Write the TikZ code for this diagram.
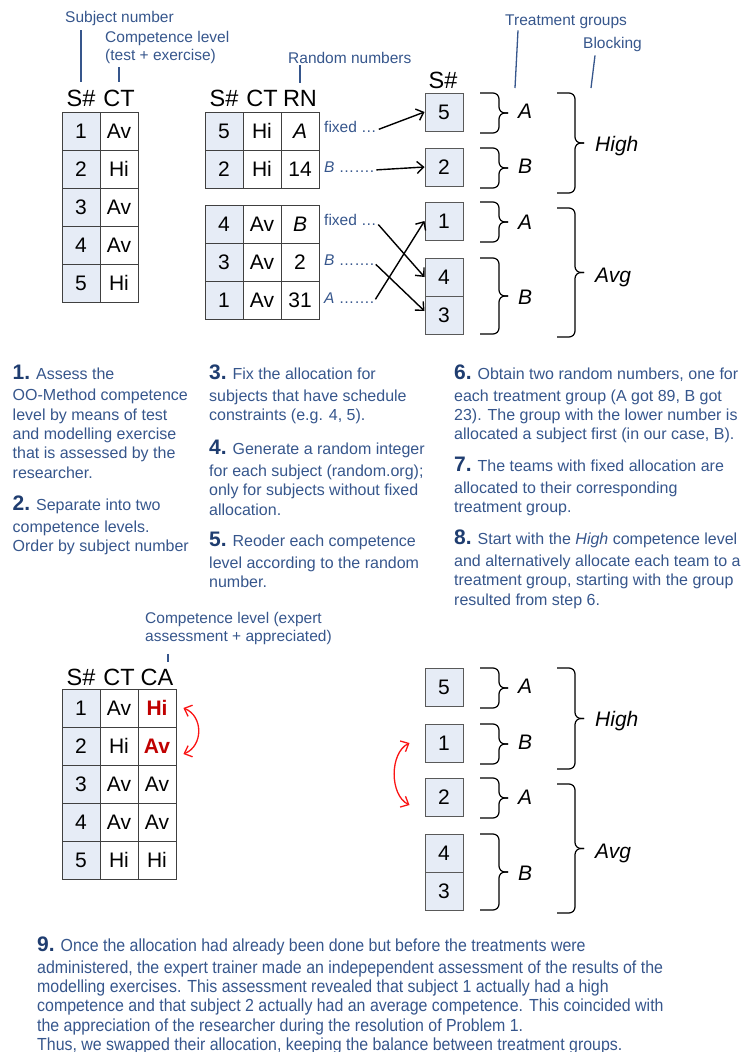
\documentclass[tikz,border=0pt]{standalone}
\usepackage{fontspec}
\setmainfont{Liberation Sans}
\newfontfamily\narrowfont[FakeStretch=0.91]{Liberation Sans}
\usetikzlibrary{arrows.meta}

\definecolor{lblblue}{RGB}{54,86,140}
\definecolor{numblue}{RGB}{31,61,112}
\definecolor{cellfill}{RGB}{230,236,246}
\definecolor{darkred}{RGB}{192,0,0}
\definecolor{swapred}{RGB}{250,20,20}

\newcommand\stepnum[1]{{\normalfont\color{numblue}\bfseries\fontsize{21}{21}\selectfont #1}}
\newcommand\grpbrace[4]{%
  \draw[brace line] (#1,#2) -| ({#1+#4-9},{(#2+#3)/2}) -- ({#1+#4},{(#2+#3)/2});
  \draw[brace line] (#1,#3) -| ({#1+#4-9},{(#2+#3)/2}) -- ({#1+#4},{(#2+#3)/2});}

\begin{document}
\begin{tikzpicture}[x=1pt,y=-1pt,>={Straight Barb[length=6.5pt,width=12pt]},
    cell/.style={draw=black!75,line width=0.8pt,minimum width=38pt,minimum height=38pt,inner sep=0pt,font=\fontsize{21}{25}\selectfont},
    idcell/.style={cell,fill=cellfill},
    redcell/.style={cell,text=darkred,font=\fontsize{21}{25}\selectfont\bfseries},
    subj/.style={draw=black!65,line width=1pt,fill=cellfill,minimum width=38pt,minimum height=38pt,inner sep=0pt,font=\fontsize{21}{25}\selectfont},
    hdr/.style={font=\fontsize{23.5}{26}\selectfont,inner sep=0pt},
    lbl/.style={lblblue,font=\fontsize{15.5}{18}\selectfont,inner sep=0pt,align=left},
    tick/.style={lblblue,line width=1.3pt},
    note/.style={lblblue,font=\fontsize{15.5}{18}\selectfont,inner sep=0pt,anchor=base west},
    steptxt/.style={lblblue,font=\fontsize{16}{19.3}\selectfont,inner sep=0pt,align=left,anchor=north west},
    grp/.style={font=\itshape\fontsize{21}{25}\selectfont,inner sep=0pt,anchor=west},
    brace line/.style={line width=1.2pt,rounded corners=6pt},
    alloc/.style={->,line width=1.4pt,shorten <=2pt},
    swap/.style={<->,swapred,line width=1.3pt}]
\useasboundingbox (0,0) rectangle (743,1052);

\node[lbl,anchor=base west] (lsubj) at (65,22) {Subject number};
\node[lbl,anchor=north west] (lct) at (105,31.5) {Competence level\\(test + exercise)};
\node[lbl,anchor=base west] (lrn) at (288,63) {Random numbers};
\node[lbl,anchor=base west] (ltg) at (505,25) {Treatment groups};
\node[lbl,anchor=base west] (lblk) at (583,48) {Blocking};

\node[hdr] (hS1) at (81,98) {S\#};
\node[hdr] (hCT1) at (119,98) {CT};
\node[hdr] (hS2) at (224,98) {S\#};
\node[hdr] (hCT2) at (262,98) {CT};
\node[hdr] (hRN) at (300,98) {RN};
\node[hdr] (hS3) at (443,80) {S\#};

\node[idcell] (s1) at (81,131) {1}; \node[cell] (ct1) at (119,131) {Av};
\node[idcell] (s2) at (81,169) {2}; \node[cell] (ct2) at (119,169) {Hi};
\node[idcell] (s3) at (81,207) {3}; \node[cell] (ct3) at (119,207) {Av};
\node[idcell] (s4) at (81,245) {4}; \node[cell] (ct4) at (119,245) {Av};
\node[idcell] (s5) at (81,283) {5}; \node[cell] (ct5) at (119,283) {Hi};

\node[idcell] (rs5) at (224,131) {5}; \node[cell] (rc5) at (262,131) {Hi}; \node[cell] (rn5) at (300,131) {\itshape A};
\node[idcell] (rs2) at (224,169) {2}; \node[cell] (rc2) at (262,169) {Hi}; \node[cell] (rn2) at (300,169) {14};
\node[idcell] (rs4) at (224,224) {4}; \node[cell] (rc4) at (262,224) {Av}; \node[cell] (rn4) at (300,224) {\itshape B};
\node[idcell] (rs3) at (224,262) {3}; \node[cell] (rc3) at (262,262) {Av}; \node[cell] (rn3) at (300,262) {2};
\node[idcell] (rs1) at (224,300) {1}; \node[cell] (rc1) at (262,300) {Av}; \node[cell] (rn1) at (300,300) {31};

\node[note] (fx5) at (324,132) {fixed …};
\node[note] (nt2) at (324,172) {\itshape B\upshape{} …….};
\node[note] (fx4) at (324,225) {fixed …};
\node[note] (nt3) at (324,265) {\itshape B\upshape{} …….};
\node[note] (nt1) at (324,303) {\itshape A\upshape{} …….};

\node[subj] (g5) at (444,112) {5};
\node[subj] (g2) at (444,167) {2};
\node[subj] (g1) at (444,221) {1};
\node[subj] (g4) at (444,277) {4};
\node[subj] (g3) at (444,315) {3};

\draw[alloc] ([yshift=2pt]fx5.base east) -- (g5.west);
\draw[alloc] ([yshift=2pt]nt2.base east) -- (g2.west);
\draw[alloc] ([yshift=2pt]fx4.base east) -- (g4.west);
\draw[alloc] ([yshift=2pt]nt3.base east) -- ([yshift=4pt]g3.west);
\draw[alloc] ([yshift=2pt]nt1.base east) -- (g1.west);

\grpbrace{480}{93}{133}{28}
\grpbrace{480}{148}{188}{28}
\grpbrace{480}{202}{242}{28}
\grpbrace{480}{258}{334}{28}
\grpbrace{557}{93}{193}{27}
\grpbrace{557}{208}{337}{27}
\node[grp] (gA1) at (518,111) {A};
\node[grp] (gB1) at (518,166) {B};
\node[grp] (gA2) at (518,222) {A};
\node[grp] (gB2) at (518,297) {B};
\node[grp] (gHi) at (595,146) {High};
\node[grp] (gAv) at (595,277) {Avg};

\draw[tick] ([yshift=-5pt]lsubj.south -| hS1.north) -- ([yshift=7pt]hS1.north);
\draw[tick] ([yshift=-3pt]lct.south -| hCT1.north) -- ([yshift=7pt]hCT1.north);
\draw[tick] ([yshift=-2pt]lrn.south -| hRN.north) -- ([yshift=7pt]hRN.north);
\draw[tick] ([yshift=-2pt]ltg.south -| gA1.west) -- ([yshift=23pt,xshift=-3pt]gA1.west);
\draw[tick] ([yshift=-4pt]lblk.south -| gHi.west) -- ([yshift=58pt,xshift=-4pt]gHi.west);

\node[steptxt] (st1) at (12.5,364.5) {\stepnum{1.} Assess the\\[2.5pt]
  OO-Method competence\\ level by means of test\\ and modelling exercise\\
  that is assessed by the\\ researcher.};
\node[steptxt] (st2) at (12.5,495.5) {\stepnum{2.} Separate into two\\[2.5pt]
  competence levels.\\ Order by subject number};
\node[steptxt] (st3) at (209,365) {\stepnum{3.} Fix the allocation for\\[2.5pt]
  subjects that have schedule\\ constraints (e.g. 4, 5).};
\node[steptxt] (st4) at (209,440) {\stepnum{4.} Generate a random integer\\[2.5pt]
  for each subject (random.org);\\ only for subjects without fixed\\ allocation.};
\node[steptxt] (st5) at (209,532) {\stepnum{5.} Reoder each competence\\[2.5pt]
  level according to the random\\ number.};
\node[steptxt] (st6) at (454,365) {\stepnum{6.} Obtain two random numbers, one for\\[2pt]
  each treatment group (A got 89, B got\\ 23). The group with the lower number is\\
  allocated a subject first (in our case, B).};
\node[steptxt] (st7) at (454,457) {\stepnum{7.} The teams with fixed allocation are\\[2.5pt]
  allocated to their corresponding\\ treatment group.};
\node[steptxt] (st8) at (454,530) {\stepnum{8.} Start with the \textit{High} competence level\\[2.5pt]
  and alternatively allocate each team to a\\ treatment group, starting with the group\\
  resulted from step 6.};

\node[lbl,anchor=north west] (lce) at (145,612) {Competence level (expert\\assessment + appreciated)};
\node[hdr] (hS4) at (81,677) {S\#};
\node[hdr] (hCT4) at (119,677) {CT};
\node[hdr] (hCA) at (157,677) {CA};
\draw[tick] ([yshift=-9pt]lce.south -| hCA.north) ++(11pt,0) -- ([yshift=6.5pt,xshift=11pt]hCA.north);

\node[idcell] (cs1) at (81,708) {1}; \node[cell] (cc1) at (119,708) {Av}; \node[redcell] (ca1) at (157,708) {Hi};
\node[idcell] (cs2) at (81,746) {2}; \node[cell] (cc2) at (119,746) {Hi}; \node[redcell] (ca2) at (157,746) {Av};
\node[idcell] (cs3) at (81,784) {3}; \node[cell] (cc3) at (119,784) {Av}; \node[cell] (ca3) at (157,784) {Av};
\node[idcell] (cs4) at (81,822) {4}; \node[cell] (cc4) at (119,822) {Av}; \node[cell] (ca4) at (157,822) {Av};
\node[idcell] (cs5) at (81,860) {5}; \node[cell] (cc5) at (119,860) {Hi}; \node[cell] (ca5) at (157,860) {Hi};
\draw[swap] ([xshift=7pt]ca1.east) .. controls +(20,8) and +(20,-8) .. ([xshift=7pt,yshift=-8pt]ca2.east);

\node[subj] (h5) at (444,687) {5};
\node[subj] (h1) at (444,743) {1};
\node[subj] (h2) at (444,797) {2};
\node[subj] (h4) at (444,853) {4};
\node[subj] (h3) at (444,891) {3};
\draw[swap] ([xshift=-15pt]h1.west) .. controls +(-20,10) and +(-20,-10) .. ([xshift=-15pt,yshift=-8pt]h2.west);

\grpbrace{480}{668}{708}{28}
\grpbrace{480}{724}{764}{28}
\grpbrace{480}{778}{818}{28}
\grpbrace{480}{834}{910}{28}
\grpbrace{557}{668}{769}{27}
\grpbrace{557}{784}{913}{27}
\node[grp] (kA1) at (518,686) {A};
\node[grp] (kB1) at (518,742) {B};
\node[grp] (kA2) at (518,797) {A};
\node[grp] (kB2) at (518,873) {B};
\node[grp] (kHi) at (595,721) {High};
\node[grp] (kAv) at (595,853) {Avg};

\node[steptxt,font=\narrowfont\fontsize{17.5}{19.3}\selectfont] (st9) at (37,936.5) {\stepnum{9.} Once the allocation had already been done but before the treatments were\\[2.5pt]
  administered, the expert trainer made an indepependent assessment of the results of the\\
  modelling exercises. This assessment revealed that subject 1 actually had a high\\
  competence and that subject 2 actually had an average competence. This coincided with\\
  the appreciation of the researcher during the resolution of Problem 1.\\
  Thus, we swapped their allocation, keeping the balance between treatment groups.};
\end{tikzpicture}
\end{document}
